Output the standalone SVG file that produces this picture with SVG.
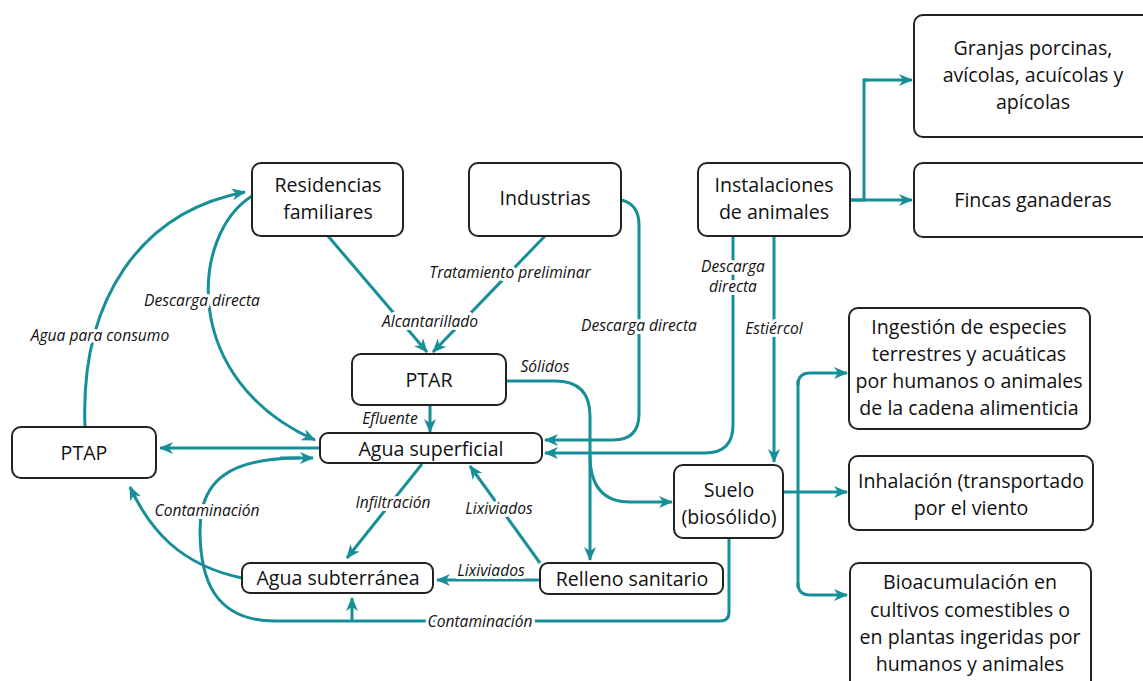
<svg xmlns="http://www.w3.org/2000/svg" width="1143" height="681" viewBox="0 0 1143 681">
<style>
.n rect{fill:#fff;stroke:#222;stroke-width:2}
.n text{font-family:"Open Sans","Liberation Sans",sans-serif;font-size:19.6px;fill:#111;text-anchor:middle}
.c path{fill:none;stroke:#178f99;stroke-width:3;marker-end:url(#a)}
.c path.p{marker-end:none}
.l{font-family:"Open Sans","Liberation Sans",sans-serif;font-size:15.6px;font-style:italic;fill:#111;text-anchor:middle;stroke:#fff;stroke-width:6;paint-order:stroke;stroke-linejoin:round}
</style>
<defs>
<marker id="a" viewBox="0 0 14 12" refX="13" refY="6" markerWidth="14" markerHeight="12" markerUnits="userSpaceOnUse" orient="auto">
<path d="M0,0 L14,6 L0,12 L4,6 z" fill="#178f99"/>
</marker>
</defs>
<rect width="1143" height="681" fill="#fff"/>
<g class="c" id="connectors">
<path class="p" d="M850,200 H864 V80 H868"/>
<path d="M864,80 H912"/>
<path d="M850,200 H912"/>
<path d="M733,236 V425 Q733,453 705,453 H545"/>
<path d="M774,236 V462"/>
<path d="M621,200 Q639,204 639,225 V414 Q639,440 613,440 H545"/>
<path d="M545,236 L433,352"/>
<path d="M328,236 L427,352"/>
<path d="M252,196 C190,235 180,380 315,440"/>
<path d="M85,427 C80,300 140,212 245,192"/>
<path d="M320,448 H160"/>
<path class="p" d="M729,538 V612 Q729,621 720,621 H275 C215,621 200,580 200,530 C200,480 230,458 300,458"/>
<path d="M280,458 H313"/>
<path d="M352,621 V598"/>
<path d="M242,578 C180,565 150,530 130,487"/>
<path d="M430,405 V432"/>
<path d="M507,381 H555 Q590,381 590,416 V560"/>
<path d="M590,455 Q590,502 630,502 H672"/>
<path d="M422,464 L347,558"/>
<path d="M540,563 L470,466"/>
<path d="M540,580 H437"/>
<path d="M783,492 H847"/>
<path class="p" d="M798,380 V588"/>
<path d="M798,385 Q798,373 810,373 H847"/>
<path d="M798,583 Q798,595 810,595 H847"/>
</g>
<g id="labels">
<text class="l" x="733" y="272">Descarga</text>
<text class="l" x="733" y="292">directa</text>
<text class="l" x="774" y="334">Estiércol</text>
<text class="l" x="639" y="331">Descarga directa</text>
<text class="l" x="510" y="278">Tratamiento preliminar</text>
<text class="l" x="430" y="327">Alcantarillado</text>
<text class="l" x="202" y="306">Descarga directa</text>
<text class="l" x="100" y="341">Agua para consumo</text>
<text class="l" x="207" y="516">Contaminación</text>
<text class="l" x="480" y="627">Contaminación</text>
<text class="l" x="390" y="424">Efluente</text>
<text class="l" x="545" y="372">Sólidos</text>
<text class="l" x="393" y="508">Infiltración</text>
<text class="l" x="499" y="514">Lixiviados</text>
<text class="l" x="491" y="576">Lixiviados</text>
</g>
<g class="n" id="granjas"><rect x="914" y="15" width="240" height="122" rx="9"/><text x="1033" y="55">Granjas porcinas,</text><text x="1033" y="82">avícolas, acuícolas y</text><text x="1033" y="109">apícolas</text></g>
<g class="n" id="fincas"><rect x="914" y="163" width="240" height="74" rx="9"/><text x="1033" y="207">Fincas ganaderas</text></g>
<g class="n" id="instalaciones"><rect x="698" y="163" width="152" height="73" rx="9"/><text x="774" y="192">Instalaciones</text><text x="774" y="219">de animales</text></g>
<g class="n" id="industrias"><rect x="469" y="163" width="152" height="73" rx="9"/><text x="545" y="205">Industrias</text></g>
<g class="n" id="residencias"><rect x="252" y="163" width="151" height="73" rx="9"/><text x="328" y="192">Residencias</text><text x="328" y="219">familiares</text></g>
<g class="n" id="ptar"><rect x="352" y="354" width="154" height="51" rx="9"/><text x="429" y="387">PTAR</text></g>
<g class="n" id="aguasup"><rect x="320" y="433" width="222" height="30" rx="8"/><text x="431" y="456">Agua superficial</text></g>
<g class="n" id="ptap"><rect x="12" y="427" width="144" height="51" rx="9"/><text x="84" y="460">PTAP</text></g>
<g class="n" id="aguasub"><rect x="242" y="563" width="191" height="30" rx="8"/><text x="338" y="585">Agua subterránea</text></g>
<g class="n" id="relleno"><rect x="540" y="563" width="183" height="31" rx="8"/><text x="632" y="586">Relleno sanitario</text></g>
<g class="n" id="suelo"><rect x="674" y="465" width="109" height="73" rx="9"/><text x="729" y="497">Suelo</text><text x="729" y="524">(biosólido)</text></g>
<g class="n" id="ingestion"><rect x="849" y="308" width="241" height="121" rx="9"/><text x="969" y="334">Ingestión de especies</text><text x="969" y="361">terrestres y acuáticas</text><text x="969" y="388">por humanos o animales</text><text x="969" y="415">de la cadena alimenticia</text></g>
<g class="n" id="inhalacion"><rect x="849" y="456" width="244" height="74" rx="9"/><text x="971" y="488">Inhalación (transportado</text><text x="971" y="515">por el viento</text></g>
<g class="n" id="bioacumulacion"><rect x="850" y="563" width="241" height="130" rx="9"/><text x="970" y="589">Bioacumulación en</text><text x="970" y="617">cultivos comestibles o</text><text x="970" y="644">en plantas ingeridas por</text><text x="970" y="671">humanos y animales</text></g>
</svg>
